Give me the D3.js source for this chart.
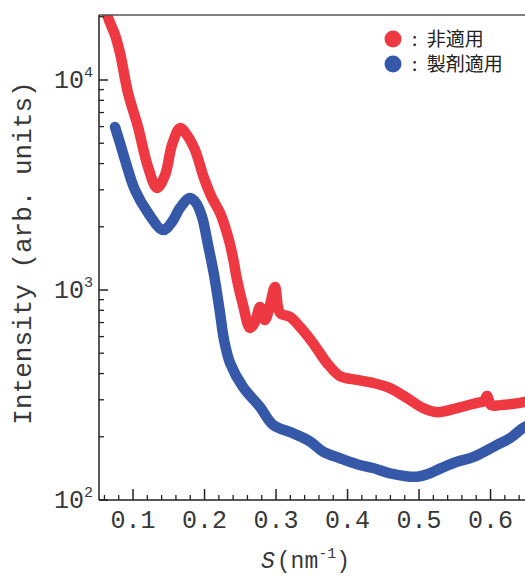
<!DOCTYPE html>
<html>
<head>
<meta charset="utf-8">
<script src="https://cdn.jsdelivr.net/npm/d3@7"></script>
<style>
    html, body { margin: 0; padding: 0; background: #fff; }
    svg { display: block; overflow: hidden; }
    .tick-label { font-family: "Liberation Mono", "DejaVu Sans Mono", monospace; font-size: 25px; fill: #383838; }
    .legend-text { font-family: "Noto Sans CJK JP", sans-serif; font-size: 19px; fill: #222; }
</style>
</head>
<body>
<svg id="chart" width="525" height="576"></svg>
<script>
// S (nm^-1) und Intensitaet
const sRed = [0.0625, 0.065, 0.0748, 0.0818, 0.093, 0.107, 0.121, 0.1336, 0.1448, 0.1545, 0.1657, 0.1755,
    0.1867, 0.1993, 0.2105, 0.2217, 0.2329, 0.2399, 0.2455, 0.2538, 0.2636, 0.2706, 0.2776, 0.2846,
    0.2916, 0.2986, 0.3056, 0.3196, 0.3336, 0.3517, 0.3713, 0.3895, 0.4133, 0.4357, 0.4594, 0.4832,
    0.5056, 0.5252, 0.5531, 0.5811, 0.5909, 0.5951, 0.6007, 0.6133, 0.6413, 0.6483, 0.67];
const iRed = [23000, 19950, 16400, 13450, 8670, 5970, 3850, 3060, 3530, 4900, 5900, 5470,
    4640, 3410, 2740, 2330, 1790, 1420, 1115, 849, 660, 704, 830, 720,
    849, 1034, 777, 744, 666, 559, 449, 389, 373, 361, 341, 306,
    274, 262, 274, 290, 296, 313, 283, 283, 290, 293, 296];

const sBlue = [0.0748, 0.0818, 0.0888, 0.1028, 0.121, 0.142, 0.1545, 0.1657, 0.1797, 0.1881, 0.1965,
    0.2049, 0.2133, 0.2217, 0.2273, 0.2357, 0.2538, 0.2776, 0.2958, 0.3238, 0.3476, 0.3657, 0.3895,
    0.4133, 0.4357, 0.4594, 0.4972, 0.5126, 0.5294, 0.5531, 0.5755, 0.6091, 0.6273, 0.6413, 0.6483, 0.67];
const iBlue = [5970, 5010, 4160, 2990, 2330, 1930, 2110, 2460, 2740, 2600, 2230,
    1640, 1180, 777, 578, 449, 345, 277, 228, 208, 190, 170, 158,
    148, 142, 134, 129, 133, 141, 152, 160, 183, 197, 215, 223, 240];

const xTicks = [0.1, 0.2, 0.3, 0.4, 0.5, 0.6];
const yTicks = [100, 1000, 10000];
const yExponents = ['2', '3', '4'];
const legendLabels = ['非適用', '製剤適用'];
const colors = ['#ee3842', '#3559a8'];

const svg = d3.select('#chart');
const margin = { top: 15, left: 99 };
const width = (0.7 - 0.0524) * 715;
const height = 485;

const g = svg.append('g')
    .attr('transform', `translate(${margin.left},${margin.top})`);

const xScale = d3.scaleLinear().domain([0.0524, 0.7]).range([0, width]);
const yScale = d3.scaleLog().domain([100, Math.pow(10, 2 + height / 210)]).range([height, 0]);

// Clip oben
svg.append('defs').append('clipPath').attr('id', 'plot-clip')
    .append('rect').attr('x', -20).attr('y', 0).attr('width', width + 40).attr('height', height + 20);

// Kurven
const line = d3.line()
    .x(d => xScale(d[0]))
    .y(d => yScale(d[1]))
    .curve(d3.curveCatmullRom.alpha(0.5));

const curves = g.append('g').attr('clip-path', 'url(#plot-clip)');
[[sRed, iRed], [sBlue, iBlue]].forEach(([xs, ys], k) => {
    curves.append('path')
        .datum(xs.map((s, i) => [s, ys[i]]))
        .attr('d', line)
        .attr('fill', 'none')
        .attr('stroke', colors[k])
        .attr('stroke-width', 10.5)
        .attr('stroke-linecap', 'round')
        .attr('stroke-linejoin', 'round');
});

// Rahmen oben
g.append('line')
    .attr('x1', 0).attr('x2', width).attr('y1', 0).attr('y2', 0)
    .attr('stroke', '#555').attr('stroke-width', 1.5);

// X-Achse, Ticks nach innen
const xMinor = d3.range(0.06, 0.7, 0.02).filter(v => Math.abs(v * 10 - Math.round(v * 10)) > 1e-6);
const xAxis = g.append('g').attr('transform', `translate(0,${height})`);
xAxis.append('line').attr('x1', 0).attr('x2', width).attr('stroke', '#222').attr('stroke-width', 1.5);
xAxis.selectAll('.xmaj').data(xTicks).enter().append('line')
    .attr('x1', d => xScale(d)).attr('x2', d => xScale(d))
    .attr('y1', 0).attr('y2', -11).attr('stroke', '#222').attr('stroke-width', 1.5);
xAxis.selectAll('.xmin').data(xMinor).enter().append('line')
    .attr('x1', d => xScale(d)).attr('x2', d => xScale(d))
    .attr('y1', 0).attr('y2', -5).attr('stroke', '#222').attr('stroke-width', 1.3);
xAxis.selectAll('.xlab').data(xTicks).enter().append('text')
    .attr('class', 'tick-label')
    .attr('x', d => xScale(d)).attr('y', 28)
    .attr('text-anchor', 'middle')
    .text(d => d3.format('.1f')(d));

// Y-Achse
const yMinor = [];
[100, 1000, 10000].forEach(dec => {
    for (let m = 2; m <= 9; m++) yMinor.push(dec * m);
});
const yAxis = g.append('g');
yAxis.append('line').attr('y1', 0).attr('y2', height).attr('stroke', '#222').attr('stroke-width', 1.5);
yAxis.selectAll('.ymaj').data(yTicks).enter().append('line')
    .attr('y1', d => yScale(d)).attr('y2', d => yScale(d))
    .attr('x1', 0).attr('x2', 9).attr('stroke', '#222').attr('stroke-width', 1.5);
yAxis.selectAll('.ymin').data(yMinor.filter(v => yScale(v) > 0)).enter().append('line')
    .attr('y1', d => yScale(d)).attr('y2', d => yScale(d))
    .attr('x1', 0).attr('x2', 5).attr('stroke', '#222').attr('stroke-width', 1.3);
const yLab = yAxis.selectAll('.ylab').data(yTicks).enter().append('text')
    .attr('class', 'tick-label')
    .attr('x', -6).attr('y', d => yScale(d) + 8)
    .attr('text-anchor', 'end');
yLab.append('tspan').text('10');
yLab.append('tspan').attr('dy', -11).style('font-size', '15px').text((d, i) => yExponents[i]);

// Achsentitel
svg.append('text')
    .attr('class', 'tick-label')
    .attr('transform', `translate(31,253) rotate(-90)`)
    .attr('text-anchor', 'middle')
    .style('font-size', '26px')
    .text('Intensity (arb. units)');

const xTitle = svg.append('text')
    .attr('class', 'tick-label')
    .attr('x', 261).attr('y', 568)
    .style('font-size', '23px');
xTitle.append('tspan').style('font-style', 'italic').text('S');
xTitle.append('tspan').attr('dx', 2).text('(nm');
xTitle.append('tspan').attr('dy', -10).style('font-size', '15px').text('-1');
xTitle.append('tspan').attr('dy', 10).text(')');

// Legende
const legend = svg.append('g').attr('transform', 'translate(393,39)');
legendLabels.forEach((lab, i) => {
    const item = legend.append('g').attr('transform', `translate(0,${i * 25})`);
    item.append('circle').attr('r', 8.5).attr('fill', colors[i]);
    item.append('text').attr('class', 'legend-text')
        .attr('x', 19).attr('dy', '0.36em')
        .text(':\u2002' + lab);
});
</script>
</body>
</html>
